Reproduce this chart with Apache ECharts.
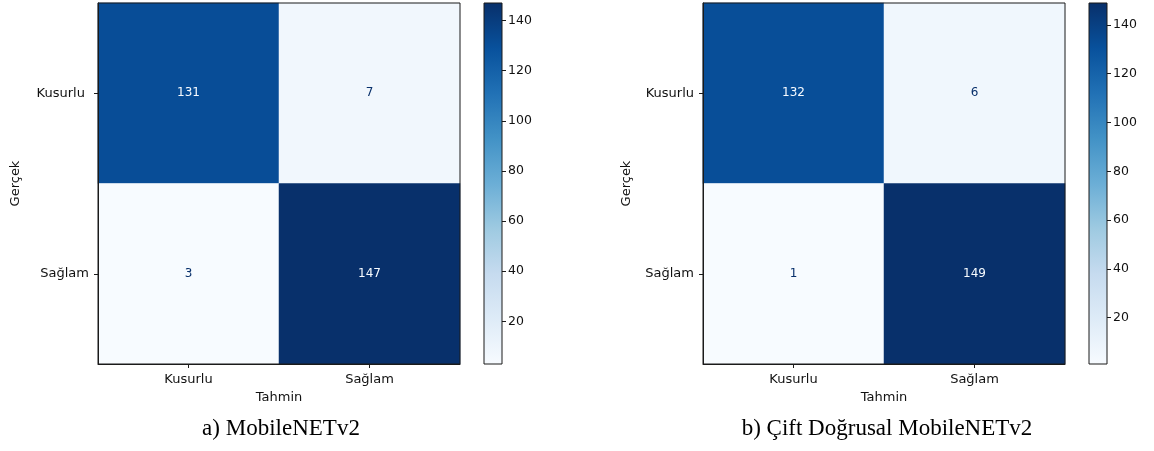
<!DOCTYPE html>
<html>
<head>
<meta charset="utf-8">
<script src="https://cdn.jsdelivr.net/npm/echarts@6/dist/echarts.min.js"></script>
<style>
  html, body { margin: 0; padding: 0; background: #fff; }
  #chart { width: 1154px; height: 451px; }
</style>
</head>
<body>
<div id="chart"></div>
<script>
// Confusion matrices: rows = true class (Gerçek), columns = predicted class (Tahmin)
const classes = ['Kusurlu', 'Sağlam'];
const rowLabelsA = ['Kusurlu ', 'Sağlam'];
const rowLabelsB = ['Kusurlu', 'Sağlam'];
const matrixA = [[131, 7], [3, 147]];
const matrixB = [[132, 6], [1, 149]];
const colorbarTicks = [20, 40, 60, 80, 100, 120, 140];
const captionA = 'a) MobileNETv2';
const captionB = 'b) Çift Doğrusal MobileNETv2';
const xName = 'Tahmin';
const yName = 'Gerçek';

// "Blues" colour ramp, light to dark
const blues = ['#f7fbff', '#deebf7', '#c6dbef', '#9ecae1', '#6baed6',
               '#4292c6', '#2171b5', '#08519c', '#08306b'];

const SANS = 'DejaVu Sans';
const TEXT = '#111';
const FRAME = '#1a1a1a';

function range(m) {
  const flat = m.flat();
  return [Math.min(...flat), Math.max(...flat)];
}

function cells(m) {
  const [lo, hi] = range(m);
  const mid = (lo + hi) / 2;
  const out = [];
  m.forEach((row, i) => row.forEach((v, j) => {
    out.push({
      value: [j, i, v],
      label: { color: v > mid ? blues[0] : blues[8] }
    });
  }));
  return out;
}

const layouts = [
  { left: 98, plotW: 362, cbLeft: 484, yGap: 76, rows: rowLabelsA, m: matrixA },
  { left: 703, plotW: 362, cbLeft: 1089, yGap: 70, rows: rowLabelsB, m: matrixB }
];
const TOP = 3, H = 361;

const grid = [], xAxis = [], yAxis = [], series = [], visualMap = [];

layouts.forEach((L, k) => {
  const [lo, hi] = range(L.m);
  const gHeat = grid.length;
  grid.push({ left: L.left, top: TOP, width: L.plotW, height: H, z: 5,
              show: true, borderColor: FRAME, borderWidth: 1, backgroundColor: 'transparent' });
  const gBar = grid.length;
  grid.push({ left: L.cbLeft, top: TOP, width: 18, height: H, z: 5,
              show: true, borderColor: FRAME, borderWidth: 1, backgroundColor: 'transparent' });

  xAxis.push({
    type: 'category', gridIndex: gHeat, data: classes, position: 'bottom', z: 6,
    axisLine: { show: true, lineStyle: { color: FRAME, width: 1 } },
    axisTick: { show: true, alignWithLabel: true, length: 4, lineStyle: { color: FRAME } },
    axisLabel: { margin: 9, color: TEXT, fontSize: 13, fontFamily: SANS },
    splitLine: { show: false }, splitArea: { show: false },
    name: xName, nameLocation: 'middle', nameGap: 27,
    nameTextStyle: { color: TEXT, fontSize: 13, fontFamily: SANS }
  });
  yAxis.push({
    type: 'category', gridIndex: gHeat, data: L.rows, inverse: true, z: 6,
    axisLine: { show: true, lineStyle: { color: FRAME, width: 1 } },
    axisTick: { show: true, alignWithLabel: true, length: 4, lineStyle: { color: FRAME } },
    axisLabel: { margin: 9, color: TEXT, fontSize: 13, fontFamily: SANS },
    splitLine: { show: false }, splitArea: { show: false },
    name: yName, nameLocation: 'middle', nameGap: L.yGap, nameRotate: 90,
    nameTextStyle: { color: TEXT, fontSize: 13, fontFamily: SANS }
  });

  xAxis.push({ type: 'category', gridIndex: gBar, data: [''], show: false });
  yAxis.push({
    type: 'value', gridIndex: gBar, min: lo, max: hi, position: 'right', z: 6,
    axisLine: { show: false },
    axisTick: { show: true, length: 4, customValues: colorbarTicks, lineStyle: { color: FRAME } },
    axisLabel: { customValues: colorbarTicks, margin: 6, color: TEXT, fontSize: 12.5, fontFamily: SANS },
    splitLine: { show: false }
  });

  const heatIdx = series.length;
  series.push({
    type: 'heatmap', xAxisIndex: gHeat, yAxisIndex: gHeat,
    data: cells(L.m), silent: true,
    label: { show: true, fontSize: 12, fontFamily: SANS },
    itemStyle: { borderWidth: 0 },
    emphasis: { disabled: true }
  });
  visualMap.push({
    type: 'continuous', show: false, seriesIndex: heatIdx, dimension: 2,
    min: lo, max: hi, inRange: { color: blues }
  });

  // colour bar: transparent spacer up to the minimum, then the gradient up to the maximum
  series.push({
    type: 'bar', xAxisIndex: gBar, yAxisIndex: gBar, stack: 'cb' + k,
    data: [lo], barWidth: '100%', silent: true,
    itemStyle: { color: 'rgba(0,0,0,0)' }
  });
  series.push({
    type: 'bar', xAxisIndex: gBar, yAxisIndex: gBar, stack: 'cb' + k,
    data: [hi - lo], barWidth: '100%', silent: true,
    itemStyle: {
      color: new echarts.graphic.LinearGradient(0, 1, 0, 0,
        blues.map((c, i) => ({ offset: i / (blues.length - 1), color: c })))
    }
  });
});

const chart = echarts.init(document.getElementById('chart'), null, { renderer: 'canvas' });
chart.setOption({
  animation: false,
  backgroundColor: '#fff',
  grid, xAxis, yAxis, series, visualMap,
  graphic: [
    { type: 'text', x: 281, y: 429, silent: true,
      style: { text: captionA, fill: '#000', font: '23px "Liberation Serif", serif',
               textAlign: 'center', textVerticalAlign: 'middle' } },
    { type: 'text', x: 887, y: 429, silent: true,
      style: { text: captionB, fill: '#000', font: '23px "Liberation Serif", serif',
               textAlign: 'center', textVerticalAlign: 'middle' } }
  ]
});
</script>
</body>
</html>
